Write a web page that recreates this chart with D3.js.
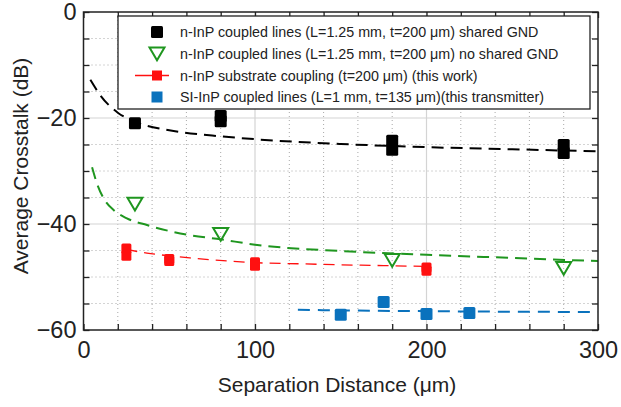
<!DOCTYPE html>
<html><head><meta charset="utf-8">
<script src="https://cdn.jsdelivr.net/npm/d3@7"></script>
<style>
body{margin:0;background:#fff}
svg{display:block;font-family:"Liberation Sans",Arial,Helvetica,sans-serif}
</style>
</head><body>
<svg id="chart" width="621" height="407"></svg>
<script>
// Axis ticks
const xTicks = [0, 100, 200, 300];
const yTicks = [0, -20, -40, -60];
const xMinor = d3.range(0, 301, 20);
const yMinor = d3.range(-60, 1, 5);

// n-InP coupled lines, shared GND (repeated measurements at some separations)
const sharedX = [30, 80, 80, 180, 180, 280, 280];
const sharedY = [-21.0, -19.6, -20.6, -24.3, -26.0, -25.1, -26.6];
const sharedFitX = [4, 10, 20, 30, 50, 75, 100, 150, 200, 250, 300];
const sharedFitY = [-12.8, -15.8, -19.0, -20.7, -22.3, -23.3, -24.0, -24.9, -25.5, -25.9, -26.3];

// n-InP coupled lines, no shared GND
const noSharedX = [30, 80, 180, 280];
const noSharedY = [-36.2, -41.9, -46.8, -48.3];
const noSharedFitX = [5, 8, 12, 18, 25, 37, 60, 80, 100, 150, 200, 250, 300];
const noSharedFitY = [-29.3, -32.5, -35.3, -37.5, -38.9, -40.2, -42.0, -42.9, -43.9, -45.1, -45.8, -46.4, -47.0];

// n-InP substrate coupling (this work)
const substrateX = [25, 25, 50, 50, 100, 100, 200, 200];
const substrateY = [-44.6, -46.0, -46.6, -47.0, -47.2, -47.9, -48.2, -48.8];
const substrateFitX = [25, 37, 50, 62, 85, 100, 125, 150, 175, 200];
const substrateFitY = [-44.8, -45.5, -46.0, -46.4, -47.0, -47.3, -47.5, -47.7, -47.85, -48.0];

// SI-InP coupled lines (this transmitter)
const siX = [150, 175, 200, 225];
const siY = [-57.1, -54.7, -57.0, -56.8];
const siFitX = [125, 150, 200, 250, 300];
const siFitY = [-56.2, -56.3, -56.45, -56.55, -56.6];

const legendLabels = [
  "n-InP coupled lines (L=1.25 mm, t=200 \u03bcm) shared GND",
  "n-InP coupled lines (L=1.25 mm, t=200 \u03bcm) no shared GND",
  "n-InP substrate coupling (t=200 \u03bcm) (this work)",
  "SI-InP coupled lines (L=1 mm, t=135 \u03bcm)(this transmitter)"
];

const colors = {black: "#000000", green: "#1f961f", red: "#ff1010", blue: "#0a72bd"};

const svg = d3.select("#chart");
const m = {left: 83.5, top: 12, right: 23, bottom: 77};
const W = 621 - m.left - m.right, H = 407 - m.top - m.bottom;
const g = svg.append("g").attr("transform", `translate(${m.left},${m.top})`);

const x = d3.scaleLinear().domain([0, 300]).range([0, W]);
const y = d3.scaleLinear().domain([-60, 0]).range([H, 0]);

// Grid: dotted minor lines, solid major lines
const grid = g.append("g");
grid.selectAll(".vminor").data(xMinor.filter(v => v % 100 !== 0)).join("line")
  .attr("x1", d => x(d)).attr("x2", d => x(d)).attr("y1", 0).attr("y2", H)
  .attr("stroke", "#a8a8a8").attr("stroke-width", 1).attr("stroke-dasharray", "1,3");
grid.selectAll(".hminor").data(yMinor.filter(v => v % 20 !== 0)).join("line")
  .attr("y1", d => y(d)).attr("y2", d => y(d)).attr("x1", 0).attr("x2", W)
  .attr("stroke", "#a8a8a8").attr("stroke-width", 1).attr("stroke-dasharray", "1,3");
grid.selectAll(".vmajor").data([100, 200]).join("line")
  .attr("x1", d => x(d)).attr("x2", d => x(d)).attr("y1", 0).attr("y2", H)
  .attr("stroke", "#d4d4d4").attr("stroke-width", 1.2);
grid.selectAll(".hmajor").data([-20, -40]).join("line")
  .attr("y1", d => y(d)).attr("y2", d => y(d)).attr("x1", 0).attr("x2", W)
  .attr("stroke", "#d4d4d4").attr("stroke-width", 1.2);

// Axes with inward ticks on all four sides
function styleAxis(sel) {
  sel.select(".domain").remove();
  sel.selectAll("line").attr("stroke", "#222").attr("stroke-width", 1.3);
}
g.append("g").attr("transform", `translate(0,${H})`)
  .call(d3.axisBottom(x).tickValues(xMinor).tickSizeInner(-6).tickSizeOuter(0).tickFormat(""))
  .call(styleAxis);
g.append("g")
  .call(d3.axisTop(x).tickValues(xMinor).tickSizeInner(-6).tickSizeOuter(0).tickFormat(""))
  .call(styleAxis);
g.append("g")
  .call(d3.axisLeft(y).tickValues(yMinor).tickSizeInner(-6).tickSizeOuter(0).tickFormat(""))
  .call(styleAxis);
g.append("g").attr("transform", `translate(${W},0)`)
  .call(d3.axisRight(y).tickValues(yMinor).tickSizeInner(-6).tickSizeOuter(0).tickFormat(""))
  .call(styleAxis);

// Tick labels
const xl = g.append("g").attr("transform", `translate(0,${H})`)
  .call(d3.axisBottom(x).tickValues(xTicks).tickSize(0).tickPadding(11).tickFormat(d3.format("d")));
xl.select(".domain").remove();
xl.selectAll("text").attr("font-size", 23.5).attr("fill", "#222").attr("font-family", "Liberation Sans, Arial, sans-serif");
const yl = g.append("g")
  .call(d3.axisLeft(y).tickValues(yTicks).tickSize(0).tickPadding(7).tickFormat(d3.format("d")));
yl.select(".domain").remove();
yl.selectAll("text").attr("font-size", 23.5).attr("fill", "#222").attr("font-family", "Liberation Sans, Arial, sans-serif");

// Fitted trend curves
const line = d3.line().x(d => x(d[0])).y(d => y(d[1])).curve(d3.curveMonotoneX);
const curves = g.append("g").attr("fill", "none");
curves.append("path").datum(d3.zip(sharedFitX, sharedFitY)).attr("d", line)
  .attr("stroke", colors.black).attr("stroke-width", 2).attr("stroke-dasharray", "12,7");
curves.append("path").datum(d3.zip(noSharedFitX, noSharedFitY)).attr("d", line)
  .attr("stroke", colors.green).attr("stroke-width", 2).attr("stroke-dasharray", "12,7");
curves.append("path").datum(d3.zip(substrateFitX, substrateFitY)).attr("d", line)
  .attr("stroke", colors.red).attr("stroke-width", 1.3).attr("stroke-dasharray", "11,7");
curves.append("path").datum(d3.zip(siFitX, siFitY)).attr("d", line)
  .attr("stroke", colors.blue).attr("stroke-width", 2).attr("stroke-dasharray", "12,8");

// Markers
const pts = g.append("g");
function squares(xs, ys, size, color) {
  pts.append("g").selectAll("rect").data(d3.zip(xs, ys)).join("rect")
    .attr("x", d => x(d[0]) - size / 2).attr("y", d => y(d[1]) - size / 2)
    .attr("width", size).attr("height", size).attr("rx", 1.5)
    .attr("fill", color);
}
squares(sharedX, sharedY, 12, colors.black);
squares(substrateX, substrateY, 10, colors.red);
squares(siX, siY, 12, colors.blue);
const tri = s => `M${-s},${-s * 0.8}L${s},${-s * 0.8}L0,${s * 0.9}Z`;
pts.append("g").selectAll("path").data(d3.zip(noSharedX, noSharedY)).join("path")
  .attr("transform", d => `translate(${x(d[0])},${y(d[1])})`)
  .attr("d", tri(7.5)).attr("fill", "none").attr("stroke", colors.green).attr("stroke-width", 2);

// Plot frame
g.append("rect").attr("width", W).attr("height", H).attr("fill", "none")
  .attr("stroke", "#222").attr("stroke-width", 1.5);

// Legend
const lg = svg.append("g").attr("transform", "translate(118,16)");
lg.append("rect").attr("width", 472).attr("height", 93).attr("fill", "#fff")
  .attr("stroke", "#222").attr("stroke-width", 1.3);
const rowY = [16, 37.5, 59.5, 81];
const items = lg.selectAll(".item").data(legendLabels).join("g")
  .attr("transform", (d, i) => `translate(0,${rowY[i]})`);
items.append("text").attr("x", 62).attr("y", 0).attr("dy", "0.35em")
  .attr("font-size", 14.3).attr("fill", "#222").text(d => d);
const mk = 39;
lg.append("rect").attr("x", mk - 6).attr("y", rowY[0] - 6).attr("width", 12).attr("height", 12).attr("rx", 1.5).attr("fill", colors.black);
lg.append("path").attr("transform", `translate(${mk},${rowY[1]})`).attr("d", tri(7.5))
  .attr("fill", "none").attr("stroke", colors.green).attr("stroke-width", 2);
lg.append("line").attr("x1", mk - 22).attr("x2", mk + 12).attr("y1", rowY[2]).attr("y2", rowY[2])
  .attr("stroke", colors.red).attr("stroke-width", 1.3);
lg.append("rect").attr("x", mk - 5).attr("y", rowY[2] - 5).attr("width", 10).attr("height", 10).attr("fill", colors.red);
lg.append("rect").attr("x", mk - 5.5).attr("y", rowY[3] - 5.5).attr("width", 11).attr("height", 11).attr("fill", colors.blue);

// Axis titles
svg.append("text").attr("x", 337).attr("y", 392).attr("text-anchor", "middle")
  .attr("font-size", 21).attr("fill", "#222").text("Separation Distance (\u03bcm)");
svg.append("text").attr("transform", `translate(28,${m.top + H / 2 - 5}) rotate(-90)`)
  .attr("text-anchor", "middle").attr("font-size", 21).attr("fill", "#222").text("Average Crosstalk (dB)");
</script>
</body></html>
